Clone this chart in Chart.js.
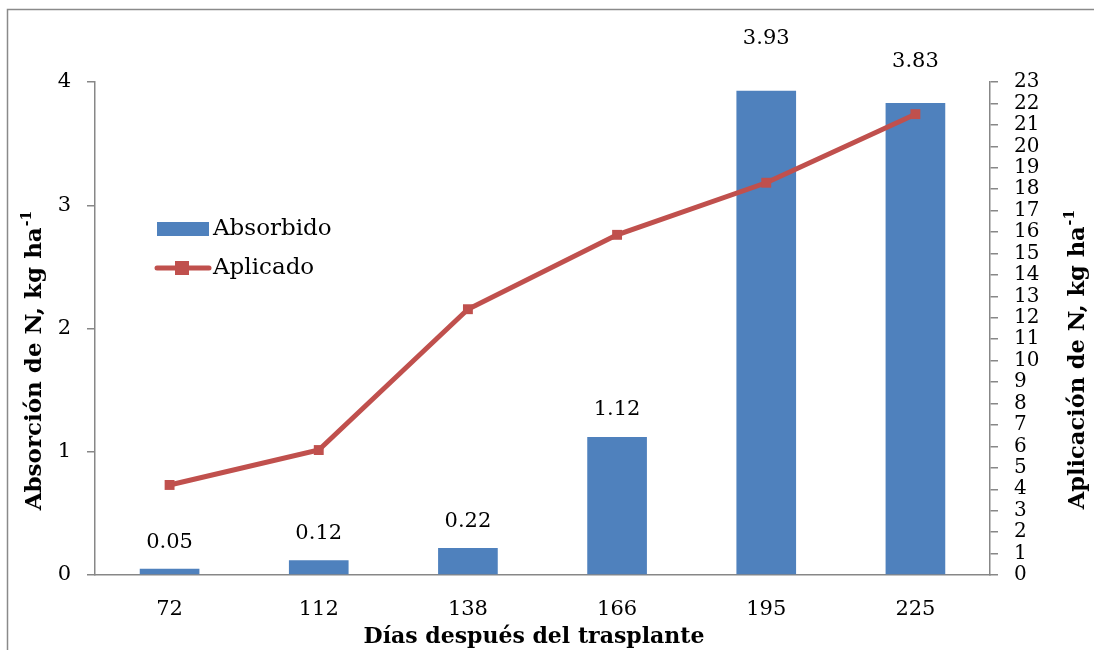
<!DOCTYPE html>
<html>
<head>
<meta charset="utf-8">
<script src="https://cdn.jsdelivr.net/npm/chart.js@4.4.1/dist/chart.umd.min.js"></script>
<style>
  html, body { margin: 0; padding: 0; background: #fff; }
  #wrap { width: 1094px; height: 650px; position: relative; }
</style>
</head>
<body>
<div id="wrap"><canvas id="c"></canvas></div>
<script>
// Days after transplant (categories)
const dias = ['72', '112', '138', '166', '195', '225'];
// N absorbed (kg/ha) – bars, left axis
const absorbido = [0.05, 0.12, 0.22, 1.12, 3.93, 3.83];
// N applied (kg/ha) – line, right axis
const aplicado = [4.2, 5.83, 12.4, 15.87, 18.3, 21.5];
// Axis ranges
const yLeftMax = 4;
const yRightMax = 23;

const serif = '"DejaVu Serif", "Liberation Serif", serif';
const axisGray = '#878787';
const barBlue = '#4F81BD';
const lineRed = '#C0504D';

// Outer frame around the chart
const framePlugin = {
  id: 'frame',
  beforeDraw(chart) {
    const ctx = chart.ctx;
    ctx.save();
    ctx.fillStyle = '#fff';
    ctx.fillRect(0, 0, chart.width, chart.height);
    ctx.strokeStyle = '#8a8a8a';
    ctx.lineWidth = 1.5;
    ctx.strokeRect(7.5, 9.5, chart.width + 20, chart.height + 20);
    ctx.restore();
  }
};

// Value labels above the bars
const barLabels = {
  id: 'barLabels',
  afterDatasetsDraw(chart, args, opts) {
    const ctx = chart.ctx;
    const meta = chart.getDatasetMeta(0);
    ctx.save();
    ctx.font = '21px ' + serif;
    ctx.fillStyle = '#000';
    ctx.textAlign = 'center';
    ctx.textBaseline = 'middle';
    meta.data.forEach((bar, i) => {
      const off = opts.offsets[i];
      ctx.fillText(absorbido[i].toFixed(2), bar.x, bar.y - off);
    });
    ctx.restore();
  }
};

// Axis titles (with superscript units) and the legend
const decor = {
  id: 'decor',
  afterDraw(chart) {
    const ctx = chart.ctx;
    const area = chart.chartArea;
    ctx.save();
    ctx.fillStyle = '#000';

    function rotTitle(x, y, main, sup, size) {
      ctx.save();
      ctx.translate(x, y);
      ctx.rotate(-Math.PI / 2);
      const fMain = 'bold ' + size + 'px ' + serif;
      const fSup = 'bold ' + Math.round(size * 0.62) + 'px ' + serif;
      ctx.font = fMain;
      const w1 = ctx.measureText(main).width;
      ctx.font = fSup;
      const w2 = ctx.measureText(sup).width;
      const start = -(w1 + w2) / 2;
      ctx.textBaseline = 'alphabetic';
      ctx.textAlign = 'left';
      ctx.font = fMain;
      ctx.fillText(main, start, 8);
      ctx.font = fSup;
      ctx.fillText(sup, start + w1 + 1, -2);
      ctx.restore();
    }
    rotTitle(33, 361, 'Absorción de N, kg ha', '-1', 23);
    rotTitle(1076, 360, 'Aplicación de N, kg ha', '-1', 22.5);

    // x title
    ctx.font = 'bold 22px ' + serif;
    ctx.textAlign = 'center';
    ctx.textBaseline = 'middle';
    ctx.fillText('Días después del trasplante', 534, 637);

    // legend
    ctx.fillStyle = barBlue;
    ctx.fillRect(157, 222, 52, 14);
    ctx.strokeStyle = lineRed;
    ctx.lineWidth = 5;
    ctx.lineCap = 'round';
    ctx.beginPath();
    ctx.moveTo(157, 268);
    ctx.lineTo(209, 268);
    ctx.stroke();
    ctx.fillStyle = lineRed;
    ctx.fillRect(175, 261, 14, 14);
    ctx.fillStyle = '#000';
    ctx.font = '23px ' + serif;
    ctx.textAlign = 'left';
    ctx.textBaseline = 'middle';
    ctx.fillText('Absorbido', 213, 229);
    ctx.fillText('Aplicado', 213, 268);
    ctx.restore();
  }
};

new Chart(document.getElementById('c'), {
  type: 'bar',
  data: {
    labels: dias,
    datasets: [
      {
        type: 'bar',
        label: 'Absorbido',
        data: absorbido,
        backgroundColor: barBlue,
        borderWidth: 0,
        barPercentage: 0.4,
        categoryPercentage: 1.0,
        yAxisID: 'y',
        order: 2
      },
      {
        type: 'line',
        label: 'Aplicado',
        data: aplicado,
        borderColor: lineRed,
        backgroundColor: lineRed,
        borderWidth: 5,
        pointStyle: 'rect',
        pointRadius: 7,
        pointHoverRadius: 7,
        pointBorderWidth: 0,
        tension: 0,
        yAxisID: 'y1',
        order: 1
      }
    ]
  },
  options: {
    responsive: true,
    maintainAspectRatio: false,
    animation: false,
    events: [],
    layout: { padding: { top: 82, bottom: 0, left: 0, right: 0 } },
    plugins: {
      legend: { display: false },
      tooltip: { enabled: false },
      barLabels: { offsets: [26, 27, 26, 27, 52, 41] }
    },
    scales: {
      x: {
        offset: true,
        grid: { drawOnChartArea: false, drawTicks: false },
        border: { display: true, color: axisGray, width: 1.5 },
        ticks: { color: '#000', font: { family: serif, size: 21 }, padding: 22, maxRotation: 0 },
        afterFit(s) { s.height = 75; }
      },
      y: {
        position: 'left',
        min: 0,
        max: yLeftMax,
        grid: { drawOnChartArea: false, drawTicks: true, tickLength: 8, color: axisGray, lineWidth: 1.5 },
        border: { display: true, color: axisGray, width: 1.5 },
        ticks: { stepSize: 1, color: '#000', font: { family: serif, size: 21 }, padding: 16 },
        afterFit(s) { s.width = 95; }
      },
      y1: {
        position: 'right',
        min: 0,
        max: yRightMax,
        grid: { drawOnChartArea: false, drawTicks: true, tickLength: 8, color: axisGray, lineWidth: 1.5 },
        border: { display: true, color: axisGray, width: 1.5 },
        ticks: { stepSize: 1, autoSkip: false, color: '#000', font: { family: serif, size: 20, lineHeight: 1.0 }, padding: 16 },
        afterFit(s) { s.width = 104; }
      }
    }
  },
  plugins: [framePlugin, barLabels, decor]
});
</script>
</body>
</html>
